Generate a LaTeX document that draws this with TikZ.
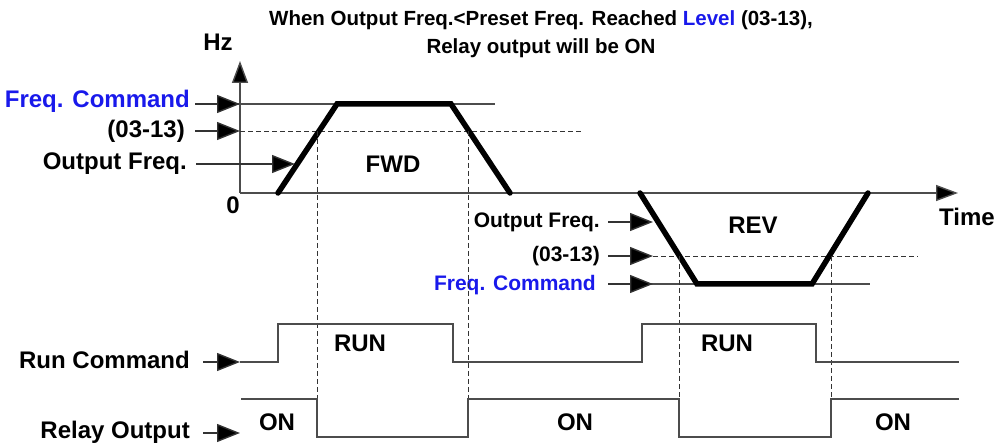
\documentclass[tikz,border=0pt]{standalone}
\usepackage{fontspec}
\setmainfont{Liberation Sans}
\usetikzlibrary{arrows.meta}
\definecolor{cmdblue}{RGB}{25,25,235}
\begin{document}
\begin{tikzpicture}[x=1pt,y=-1pt,
  thinline/.style={line width=1.4pt, draw=black!70},
  axis/.style={line width=1.4pt, draw=black!70, -{Triangle[length=22pt,width=16pt,fill=black]}},
  arr/.style={line width=1.4pt, draw=black!80, -{Triangle[length=23pt,width=18pt,fill=black]}},
  thickpath/.style={line width=5.5pt, draw=black, line join=miter, line cap=round},
  dsh/.style={line width=0.9pt, draw=black!80, dash pattern=on 5pt off 3pt},
  lab/.style={font=\bfseries\fontsize{24}{24}\selectfont, inner sep=0pt},
  rlab/.style={font=\bfseries\fontsize{21}{21}\selectfont, inner sep=0pt},
  ttl/.style={font=\bfseries\fontsize{20.5}{20.5}\selectfont, inner sep=0pt}
]
\useasboundingbox (0,0) rectangle (999,446);
% title
\node[ttl] (t1) at (541,20) {When Output Freq.<Preset Freq. Reached \textcolor{cmdblue}{Level} (03-13),};
\node[ttl] (t2) at (541,48) {Relay output will be ON};
% axes
\coordinate (O) at (240,193);
\coordinate (ytop) at (240,61);
\coordinate (xend) at (958,193);
\draw[axis] (O) -- (ytop);
\draw[axis] (O) -- (xend);
\node[lab] (hz) at (218,42) {Hz};
\node[lab] (zero) at (233,205) {0};
\node[lab] (time) at (967,217) {Time};
% FWD references
\coordinate (fcA) at (195,104);
\coordinate (fcB) at (240,104);
\coordinate (fcC) at (495,104);
\draw[thinline] (fcA) -- (fcC);
\draw[arr] (fcA) -- (fcB);
\node[lab, anchor=east, text=cmdblue] (fcl) at (190,101) {Freq. Command};
\coordinate (lvA) at (195,131);
\coordinate (lvB) at (240,131);
\coordinate (lvC) at (583,131);
\draw[dsh] (lvB) -- (lvC);
\draw[arr] (lvA) -- (lvB);
\node[lab, anchor=east] (lvl) at (185,131) {(03-13)};
\coordinate (ofA) at (196,164);
\coordinate (ofB) at (295,164);
\draw[arr] (ofA) -- (ofB);
\node[lab, anchor=east] (ofl) at (187,164) {Output Freq.};
% FWD profile
\coordinate (f1) at (278,193);
\coordinate (f2) at (337,104);
\coordinate (f3) at (451,104);
\coordinate (f4) at (510,193);
\draw[thickpath] (f1) -- (f2) -- (f3) -- (f4);
\node[lab] (fwd) at (393,164) {FWD};
% REV references
\coordinate (rofA) at (608,222);
\coordinate (rofB) at (653,222);
\draw[arr] (rofA) -- (rofB);
\node[rlab, anchor=east] (rofl) at (600,222) {Output Freq.};
\coordinate (rlvA) at (608,256);
\coordinate (rlvB) at (653,256);
\coordinate (rlvC) at (918,256);
\draw[dsh] (rlvB) -- (rlvC);
\draw[arr] (rlvA) -- (rlvB);
\node[rlab, anchor=east] (rlvl) at (600,256) {(03-13)};
\coordinate (rfcA) at (608,284);
\coordinate (rfcB) at (653,284);
\coordinate (rfcC) at (870,284);
\draw[thinline] (rfcA) -- (rfcC);
\draw[arr] (rfcA) -- (rfcB);
\node[rlab, anchor=east, text=cmdblue] (rfcl) at (596,285) {Freq. Command};
% REV profile
\coordinate (r1) at (640,193);
\coordinate (r2) at (697,284);
\coordinate (r3) at (812,284);
\coordinate (r4) at (868,193);
\draw[thickpath] (r1) -- (r2) -- (r3) -- (r4);
\node[lab] (rev) at (753,225) {REV};
% dashed verticals
\coordinate (d1t) at (317,131); \coordinate (d1b) at (317,437);
\coordinate (d2t) at (468,131); \coordinate (d2b) at (468,437);
\coordinate (d3t) at (679,256); \coordinate (d3b) at (679,437);
\coordinate (d4t) at (831,256); \coordinate (d4b) at (831,437);
\draw[dsh] (d1t) -- (d1b);
\draw[dsh] (d2t) -- (d2b);
\draw[dsh] (d3t) -- (d3b);
\draw[dsh] (d4t) -- (d4b);
% run command
\coordinate (rcA) at (203,362);
\coordinate (rcB) at (240,362);
\draw[arr] (rcA) -- (rcB);
\node[lab, anchor=east] (rcl) at (190,360) {Run Command};
\draw[thinline] (rcB) -- (278,362) -- (278,324) -- (453,324) -- (453,362) -- (642,362) -- (642,324) -- (816,324) -- (816,362) -- (959,362);
\node[lab] (run1) at (360,343) {RUN};
\node[lab] (run2) at (727,343) {RUN};
% relay output
\coordinate (roA) at (203,433);
\coordinate (roB) at (240,433);
\draw[arr] (roA) -- (roB);
\node[lab, anchor=east] (rol) at (190,432) {Relay Output};
\coordinate (re0) at (241,399);
\draw[thinline] (re0) -- (317,399) -- (317,437) -- (468,437) -- (468,399) -- (679,399) -- (679,437) -- (831,437) -- (831,399) -- (959,399);
\node[lab] (on1) at (277,422) {ON};
\node[lab] (on2) at (575,422) {ON};
\node[lab] (on3) at (893,422) {ON};
\end{tikzpicture}
\end{document}
